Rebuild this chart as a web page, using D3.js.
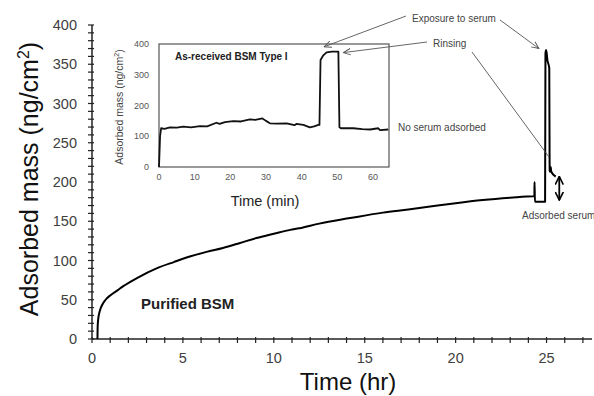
<!DOCTYPE html>
<html>
<head>
<meta charset="utf-8">
<script src="https://cdn.jsdelivr.net/npm/d3@7"></script>
<style>
  body { margin: 0; background: #fff; }
  text { font-family: "Liberation Sans", Arial, sans-serif; }
</style>
</head>
<body>
<svg id="chart" width="594" height="396"></svg>
<script>
// main trace: purified BSM (hours, ng/cm2)
const mainTime = [0.30, 0.31, 0.34, 0.42, 0.55, 0.75, 1.0, 1.4, 1.7, 2.5, 3.55, 4.5, 5.38, 6.3, 7.2, 8.1, 9.05, 10.0, 10.9, 11.4, 12.5, 14.2, 16.0, 17.4, 18.7, 20.0, 21.5, 23.0, 24.30, 24.33, 24.34, 24.36, 24.92, 24.94, 24.98, 25.05, 25.15, 25.17, 25.20, 25.23, 25.26, 25.50];
const mainMass = [0, 15, 25, 35, 43, 50, 55.5, 62, 67, 78, 90, 98, 105, 111, 116, 122, 128.6, 134, 139, 141, 147, 154, 161, 165, 169, 173, 177, 180, 182, 182, 200, 175, 175, 364, 368, 355, 345, 215, 213, 219, 213, 207];

// inset trace: as-received BSM Type I (minutes, ng/cm2)
const insetTime = [0, 0.3, 0.6, 1.5, 3.1, 5, 6.8, 9, 11.5, 13.5, 16.1, 17, 18.5, 20.8, 23, 25.5, 27, 29, 30, 31.1, 33, 35.8, 38, 38.5, 40.5, 42.3, 43.5, 44.7, 45.0, 45.3, 46, 47, 48.5, 50.3, 50.6, 51, 54.5, 57, 59.2, 61.5, 62, 64.3];
const insetMass = [0, 100, 126, 124, 129, 128, 131, 129, 133, 132, 144, 140, 146, 149, 148, 155, 153, 158, 150, 142, 141, 142, 136, 140, 137, 129, 132, 137, 137, 348, 362, 373, 375, 375, 129, 126, 126, 123, 122, 126, 120, 122];

const mainXTicks = [0, 5, 10, 15, 20, 25];
const mainYTicks = [0, 50, 100, 150, 200, 250, 300, 350, 400];
const insetXTicks = [0, 10, 20, 30, 40, 50, 60];
const insetYTicks = [0, 100, 200, 300, 400];

const svg = d3.select('#chart');

const x = d3.scaleLinear().domain([0, 27.5]).range([92, 592]);
const y = d3.scaleLinear().domain([0, 400]).range([339, 25]);

const ix = d3.scaleLinear().domain([0, 64.5]).range([159, 389]);
const iy = d3.scaleLinear().domain([0, 400]).range([167, 44]);

// main axes
svg.append('line')
	.attr('x1', x(0)).attr('x2', x(27.5))
	.attr('y1', y(0)).attr('y2', y(0))
	.attr('stroke', '#222').attr('stroke-width', 1.5);
svg.append('line')
	.attr('x1', x(0)).attr('x2', x(0))
	.attr('y1', y(0)).attr('y2', y(400))
	.attr('stroke', '#222').attr('stroke-width', 1.5);

svg.append('g').selectAll('line')
	.data(d3.range(0, 28, 1))
	.enter().append('line')
	.attr('x1', d => x(d)).attr('x2', d => x(d))
	.attr('y1', y(0) - 2).attr('y2', y(0) + 4)
	.attr('stroke', '#222').attr('stroke-width', 1.2);

svg.append('g').selectAll('line')
	.data(d3.range(0, 401, 10))
	.enter().append('line')
	.attr('x1', x(0) - 4).attr('x2', x(0) + 2)
	.attr('y1', d => y(d)).attr('y2', d => y(d))
	.attr('stroke', '#222').attr('stroke-width', 1.2);

svg.append('g').selectAll('text')
	.data(mainXTicks)
	.enter().append('text')
	.attr('x', d => x(d))
	.attr('y', 363)
	.attr('text-anchor', 'middle')
	.attr('fill', '#404040')
	.style('font-size', '14.5px')
	.text(d => d);

svg.append('g').selectAll('text')
	.data(mainYTicks)
	.enter().append('text')
	.attr('x', 77)
	.attr('y', d => y(d) + 5)
	.attr('text-anchor', 'end')
	.attr('fill', '#404040')
	.style('font-size', '14.5px')
	.text(d => d);

svg.append('text')
	.attr('x', 348)
	.attr('y', 390)
	.attr('text-anchor', 'middle')
	.attr('fill', '#111')
	.style('font-size', '24px')
	.text('Time (hr)');

const yLab = svg.append('text')
	.attr('transform', 'translate(38,179) rotate(-90)')
	.attr('text-anchor', 'middle')
	.attr('fill', '#111')
	.style('font-size', '25px');
yLab.append('tspan').text('Adsorbed mass (ng/cm');
yLab.append('tspan').attr('dy', -9).style('font-size', '16px').text('2');
yLab.append('tspan').attr('dy', 9).text(')');

// main trace
const mainLine = d3.line()
	.x((d, i) => x(mainTime[i]))
	.y(d => y(d))
	.curve(d3.curveMonotoneX);

svg.append('path')
	.datum(mainMass)
	.attr('d', mainLine)
	.attr('fill', 'none')
	.attr('stroke', '#000')
	.attr('stroke-width', 2)
	.attr('stroke-linejoin', 'round');

svg.append('text')
	.attr('x', 141)
	.attr('y', 309)
	.attr('fill', '#222')
	.style('font-size', '15px')
	.style('font-weight', 'bold')
	.text('Purified BSM');

// inset
svg.append('rect')
	.attr('x', ix(0)).attr('y', iy(400))
	.attr('width', ix(64.5) - ix(0))
	.attr('height', iy(0) - iy(400))
	.attr('fill', '#fff')
	.attr('stroke', '#555')
	.attr('stroke-width', 1.2);

svg.append('g').selectAll('text')
	.data(insetXTicks)
	.enter().append('text')
	.attr('x', d => ix(d))
	.attr('y', 180)
	.attr('text-anchor', 'middle')
	.attr('fill', '#555')
	.style('font-size', '9px')
	.text(d => d);

svg.append('g').selectAll('text')
	.data(insetYTicks)
	.enter().append('text')
	.attr('x', 149)
	.attr('y', d => iy(d) + 3)
	.attr('text-anchor', 'end')
	.attr('fill', '#555')
	.style('font-size', '9px')
	.text(d => d);

svg.append('text')
	.attr('x', 265)
	.attr('y', 206)
	.attr('text-anchor', 'middle')
	.attr('fill', '#222')
	.style('font-size', '14.5px')
	.text('Time (min)');

const iyLab = svg.append('text')
	.attr('transform', 'translate(123,107) rotate(-90)')
	.attr('text-anchor', 'middle')
	.attr('fill', '#444')
	.style('font-size', '10.5px');
iyLab.append('tspan').text('Adsorbed mass (ng/cm');
iyLab.append('tspan').attr('dy', -4).style('font-size', '7px').text('2');
iyLab.append('tspan').attr('dy', 4).text(')');

const insetLine = d3.line()
	.x((d, i) => ix(insetTime[i]))
	.y(d => iy(d));

svg.append('path')
	.datum(insetMass)
	.attr('d', insetLine)
	.attr('fill', 'none')
	.attr('stroke', '#111')
	.attr('stroke-width', 1.8)
	.attr('stroke-linejoin', 'round');

svg.append('text')
	.attr('x', 175)
	.attr('y', 60)
	.attr('fill', '#222')
	.style('font-size', '10px')
	.style('font-weight', 'bold')
	.text('As-received BSM Type I');

// annotations
const defs = svg.append('defs');
defs.append('marker')
	.attr('id', 'open-head')
	.attr('viewBox', '0 -5 10 10')
	.attr('refX', 9)
	.attr('markerWidth', 8)
	.attr('markerHeight', 8)
	.attr('markerUnits', 'userSpaceOnUse')
	.attr('orient', 'auto')
	.append('path')
	.attr('d', 'M0,-4L9,0L0,4')
	.attr('fill', 'none')
	.attr('stroke', '#555')
	.attr('stroke-width', 1.2);

defs.append('marker')
	.attr('id', 'dbl-head')
	.attr('viewBox', '0 -5 10 10')
	.attr('refX', 9)
	.attr('markerWidth', 9)
	.attr('markerHeight', 9)
	.attr('markerUnits', 'userSpaceOnUse')
	.attr('orient', 'auto-start-reverse')
	.append('path')
	.attr('d', 'M0,-4.5L9,0L0,4.5')
	.attr('fill', 'none')
	.attr('stroke', '#000')
	.attr('stroke-width', 1.8);

const pointers = [
	{ x1: 406, y1: 16, x2: ix(46.3), y2: iy(391), head: true },
	{ x1: 500, y1: 20, x2: x(24.58), y2: y(370), head: true },
	{ x1: 427, y1: 42, x2: ix(51.7), y2: iy(372), head: true },
	{ x1: 472, y1: 52, x2: x(25.13), y2: y(232), head: false }
];

svg.append('g').selectAll('line')
	.data(pointers)
	.enter().append('line')
	.attr('x1', d => d.x1).attr('y1', d => d.y1)
	.attr('x2', d => d.x2).attr('y2', d => d.y2)
	.attr('stroke', '#555')
	.attr('stroke-width', 0.9)
	.attr('marker-end', d => d.head ? 'url(#open-head)' : null);

svg.append('line')
	.attr('x1', x(25.7)).attr('x2', x(25.7))
	.attr('y1', y(207)).attr('y2', y(177))
	.attr('stroke', '#000')
	.attr('stroke-width', 1.8)
	.attr('marker-start', 'url(#dbl-head)')
	.attr('marker-end', 'url(#dbl-head)');

const notes = [
	{ text: 'Exposure to serum', x: 412, y: 22 },
	{ text: 'Rinsing', x: 433, y: 47 },
	{ text: 'No serum adsorbed', x: 398, y: 131 },
	{ text: 'Adsorbed serum', x: 522, y: 219 }
];

svg.append('g').selectAll('text')
	.data(notes)
	.enter().append('text')
	.attr('x', d => d.x)
	.attr('y', d => d.y)
	.attr('fill', '#444')
	.style('font-size', '10px')
	.text(d => d.text);
</script>
</body>
</html>
